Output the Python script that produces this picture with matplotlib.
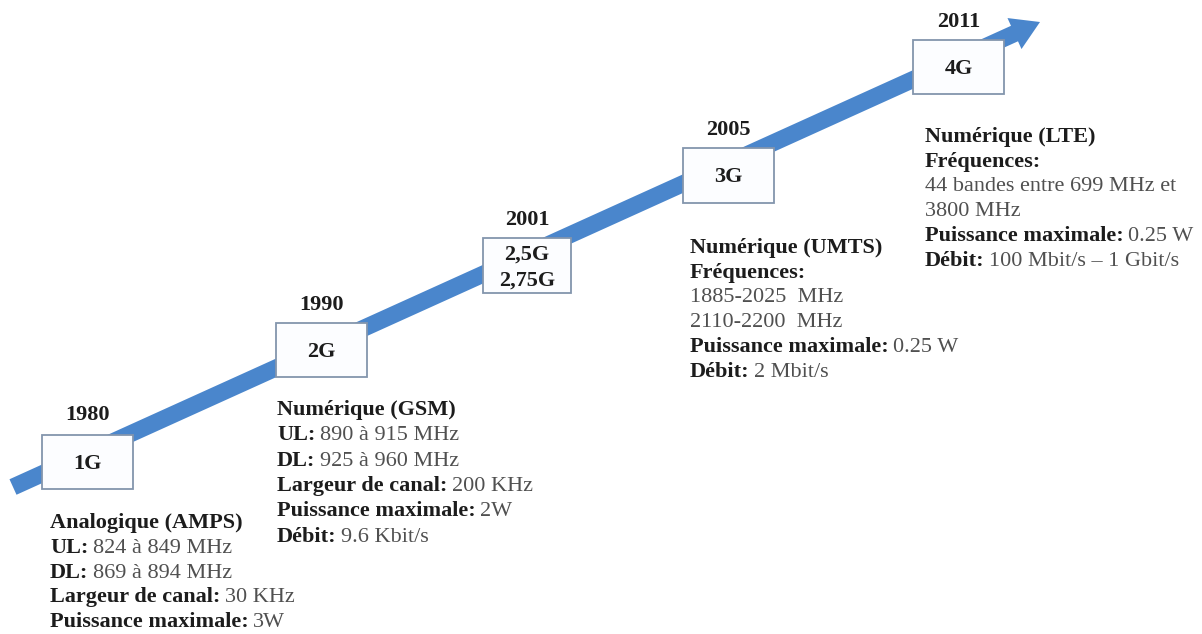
import matplotlib
matplotlib.use("Agg")
import matplotlib.pyplot as plt
from matplotlib.patches import Rectangle, FancyArrow

plt.rcParams['font.family'] = ['Liberation Serif', 'DejaVu Serif']

# --------------------------------------------
# Timeline data
generations = ["1G", "2G", "2,5G\n2,75G", "3G", "4G"]
years = ["1980", "1990", "2001", "2005", "2011"]

details_1g = [("Analogique (AMPS)", ""),
              ("UL:", "824 à 849 MHz"),
              ("DL:", "869 à 894 MHz"),
              ("Largeur de canal:", "30 KHz"),
              ("Puissance maximale:", "3W")]
details_2g = [("Numérique (GSM)", ""),
              ("UL:", "890 à 915 MHz"),
              ("DL:", "925 à 960 MHz"),
              ("Largeur de canal:", "200 KHz"),
              ("Puissance maximale:", "2W"),
              ("Débit:", "9.6 Kbit/s")]
details_3g = [("Numérique (UMTS)", ""),
              ("Fréquences:", ""),
              ("", "1885-2025  MHz"),
              ("", "2110-2200  MHz"),
              ("Puissance maximale:", "0.25 W"),
              ("Débit:", "2 Mbit/s")]
details_4g = [("Numérique (LTE)", ""),
              ("Fréquences:", ""),
              ("", "44 bandes entre 699 MHz et"),
              ("", "3800 MHz"),
              ("Puissance maximale:", "0.25 W"),
              ("Débit:", "100 Mbit/s – 1 Gbit/s")]

# --------------------------------------------
# Layout (pixel coordinates, y going down)
box_x = [42, 276, 483, 683, 913]
box_y = [435, 323, 238, 148, 40]
box_w = [91, 91, 88, 91, 91]
box_h = [54, 54, 55, 55, 54]
year_y = [415, 305, 220, 130, 22]

blocks = [(details_1g, 50, 523, 24.8),
          (details_2g, 277, 410, 25.3),
          (details_3g, 690, 248, 24.8),
          (details_4g, 925, 137, 24.8)]

fs = 16
label_color = "#1c1c1c"
value_color = "#505050"
arrow_color = "#4a86cc"

fig = plt.figure(figsize=(12.02, 6.34), dpi=100)
ax = fig.add_axes([0, 0, 1, 1])
ax.set_xlim(0, 1202)
ax.set_ylim(634, 0)
ax.set_aspect("equal")
ax.axis("off")

# the big arrow
ax.add_patch(FancyArrow(13, 487, 1027, -465, width=17, head_width=34,
                        head_length=28, length_includes_head=True,
                        color=arrow_color, linewidth=0, zorder=1))

# boxes, generation names and years
for i in range(len(generations)):
    ax.add_patch(Rectangle((box_x[i], box_y[i]), box_w[i], box_h[i],
                           facecolor="#fcfdff", edgecolor="#8395ad",
                           linewidth=1.3, zorder=2))
    cx = box_x[i] + box_w[i] / 2
    ax.text(cx, box_y[i] + box_h[i] / 2 + 2, generations[i], ha="center",
            va="center", fontsize=fs, fontweight="bold", color=label_color,
            linespacing=1.4, zorder=3)
    ax.text(cx, year_y[i], years[i], ha="center", va="center", fontsize=fs,
            fontweight="bold", color=label_color, zorder=3)

# description blocks: bold label followed by regular value
for rows, x, y0, step in blocks:
    for j, (label, value) in enumerate(rows):
        y = y0 + j * step
        if label:
            t = ax.text(x, y, label, ha="left", va="center", fontsize=fs,
                        fontweight="bold", color=label_color)
            if value:
                ax.annotate(value, xy=(1, 0), xycoords=t, xytext=(3, 0),
                            textcoords="offset points", ha="left",
                            va="bottom", fontsize=fs, color=value_color)
        else:
            ax.text(x, y, value, ha="left", va="center", fontsize=fs,
                    color=value_color)

fig.savefig("out.png", dpi=100)
